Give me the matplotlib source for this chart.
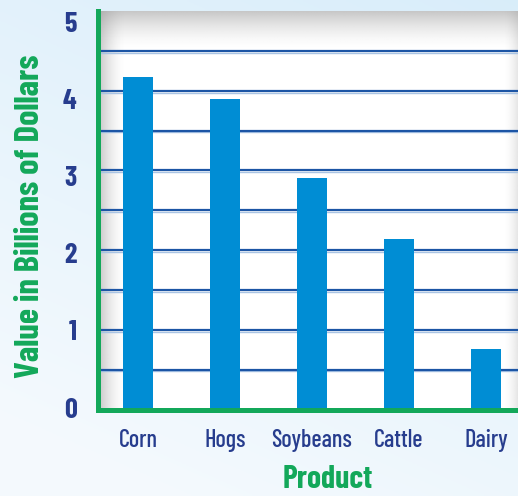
import numpy as np
import matplotlib
matplotlib.use("Agg")
import matplotlib.pyplot as plt
import matplotlib.transforms as mtransforms
from matplotlib import font_manager as fm

products = ["Corn", "Hogs", "Soybeans", "Cattle", "Dairy"]
values = [4.17, 3.90, 2.90, 2.14, 0.76]
yticks = [0, 1, 2, 3, 4, 5]
ylabel = "Value in Billions of Dollars"
xlabel = "Product"

names = {f.name for f in fm.fontManager.ttflist}
cands = ["Barlow Condensed", "Roboto Condensed", "Fira Sans Condensed", "Asap Condensed",
         "PT Sans Narrow", "Open Sans Condensed", "Liberation Sans Narrow", "DejaVu Sans"]
cond = next(c for c in cands if c in names)

W, H = 518, 496
fig = plt.figure(figsize=(W / 100, H / 100), dpi=100)
renderer = fig.canvas.get_renderer()


def fit_size(s, target_px, weight="normal"):
    t = fig.text(0, 0, s, fontsize=10, family=cond, fontweight=weight)
    w = t.get_window_extent(renderer).width
    t.remove()
    return 10 * target_px / w


xt_size = fit_size("Soybeans", 81, "medium")
yl_size = fit_size(ylabel, 323, "bold")
xl_size = fit_size(xlabel, 90, "bold")
dig_size = fit_size("4", 14, "bold")

# background gradient
bg = fig.add_axes([0, 0, 1, 1], zorder=-10)
bg.set_axis_off()
yy, xx = np.mgrid[0:1:200j, 0:1:200j]
t = np.clip(0.75 * yy + 0.35 * xx - 0.1, 0, 1)
c_low = np.array([0.96, 0.98, 0.995])
c_high = np.array([0.85, 0.93, 0.98])
img = c_low[None, None, :] * (1 - t[..., None]) + c_high[None, None, :] * t[..., None]
bg.imshow(img, origin="lower", extent=[0, 1, 0, 1], aspect="auto")
bg.set_xlim(0, 1); bg.set_ylim(0, 1)

left, right, bottom, top = 97.5 / W, 1.0, (H - 409.5) / H, (H - 11) / H
ax = fig.add_axes([left, bottom, right - left, top - bottom])
ax.set_facecolor("white")
axw, axh = W * (right - left), H * (top - bottom)

# shadow gradients inside plot area
n = 100
g = np.linspace(0, 1, n)
top_shadow = np.ones((n, 2, 4))
top_shadow[..., :3] = 0.6
top_shadow[..., 3] = ((1 - g) ** 1.6 * 0.55)[::-1][:, None]
ax.imshow(top_shadow, extent=[0, 1, 1 - 38 / axh, 1], transform=ax.transAxes, aspect="auto",
          zorder=0.5, origin="lower")
left_shadow = np.ones((2, n, 4))
left_shadow[..., :3] = 0.6
left_shadow[..., 3] = ((1 - g) ** 1.6 * 0.5)[None, :]
ax.imshow(left_shadow, extent=[2.5 / axw, 27 / axw, 0, 1], transform=ax.transAxes,
          aspect="auto", zorder=0.5)
right_shadow = np.ones((2, n, 4))
right_shadow[..., :3] = 0.6
right_shadow[..., 3] = (g ** 1.6 * 0.25)[None, :]
ax.imshow(right_shadow, extent=[1 - 14 / axw, 1, 0, 1], transform=ax.transAxes,
          aspect="auto", zorder=0.5)

x = np.arange(len(products))
ax.set_xlim(-40.5 / 87, 380 / 87)
ax.set_ylim(0, 5)

# gridlines (double line)
ytr = ax.get_yaxis_transform()
off = mtransforms.offset_copy(ytr, fig=fig, x=0, y=-1.8, units="dots")
for v in np.arange(0.5, 5.0, 0.5):
    ax.plot([0, 1], [v, v], color="#a9c4e4", lw=1.0, zorder=1, transform=off)
    ax.plot([0, 1], [v, v], color="#1c55a5", lw=1.6, zorder=1.1, transform=ytr)

ax.bar(x, values, width=30 / 87, color="#008dd4", zorder=2)

for s in ["top", "right"]:
    ax.spines[s].set_visible(False)
for s in ["left", "bottom"]:
    ax.spines[s].set_color("#13a85a")
    ax.spines[s].set_linewidth(3.6)
    ax.spines[s].set_zorder(3)
    ax.spines[s].set_capstyle("projecting")

tick_color = "#273d8e"
ax.set_yticks(yticks)
ax.set_yticklabels([str(v) for v in yticks], fontsize=dig_size, fontweight="bold",
                   color=tick_color, family=cond)
ax.set_xticks(x)
ax.set_xticklabels(products, fontsize=xt_size, color=tick_color, family=cond,
                   fontweight="medium")
ax.tick_params(axis="both", length=0)
ax.tick_params(axis="y", pad=15)
ax.tick_params(axis="x", pad=14)
# the printed scale labels sit on a slightly tighter spacing than the grid
for v, lab in zip(yticks, ax.get_yticklabels()):
    lab.set_transform(lab.get_transform() + mtransforms.Affine2D().translate(0, 2 - 2.5 * v))

ax.set_ylabel(ylabel, fontsize=yl_size, fontweight="bold", color="#13a85a", family=cond)
ax.yaxis.set_label_coords(-(97.5 - 30) / axw, (409.5 - 216) / axh)
ax.set_xlabel(xlabel, fontsize=xl_size, fontweight="bold", color="#13a85a", family=cond)
ax.xaxis.set_label_coords((328 - 97.5) / axw, -(480 - 409.5) / axh)
ax.xaxis.label.set_va("center")
ax.yaxis.label.set_va("center")

fig.savefig("out.png", dpi=100)
